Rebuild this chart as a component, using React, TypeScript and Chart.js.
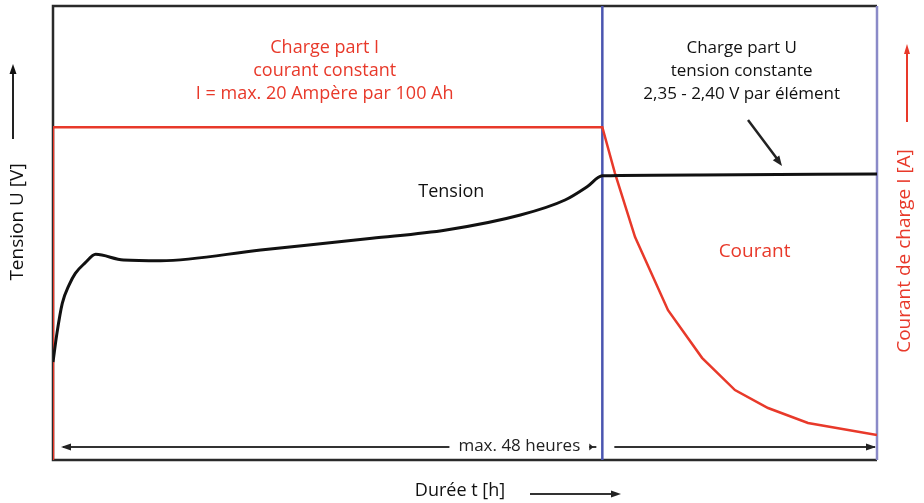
import React, { useEffect, useRef } from "react";
import { Chart, registerables } from "chart.js";

Chart.register(...registerables);

// Tension (black) curve: hours / relative level
const tensionHours = [0, 0.35, 0.81, 1.4, 1.95, 2.8, 3.73, 6.16, 9.4, 18.15, 27.87, 34.36, 40.84, 44.74, 46.67, 48, 56.5, 72];
const tensionValues = [21.6, 28.0, 34.5, 38.5, 41.1, 43.4, 45.3, 44.05, 43.9, 46.26, 48.83, 50.66, 53.96, 57.27, 60.2, 62.6, 62.8, 63.0];

// Courant (red) curve
const currentHours = [0, 0, 48, 49.1, 50.86, 53.74, 56.71, 59.59, 62.48, 65.97, 72];
const currentValues = [0, 73.3, 73.3, 63.2, 49.1, 33.0, 22.5, 15.4, 11.45, 8.15, 5.5];

const switchHour = 48;
const xMax = 72;
const yMax = 100;

const labelsPhaseI = ["Charge part I", "courant constant", "I = max. 20 Ampère par 100 Ah"];
const labelsPhaseU = ["Charge part U", "tension constante", "2,35 - 2,40 V par élément"];
const tensionLabel = "Tension";
const courantLabel = "Courant";
const durationLabel = "max. 48 heures";
const xTitle = "Durée t [h]";
const yLeftTitle = "Tension U [V]";
const yRightTitle = "Courant de charge I [A]";

const RED = "#e8392a";
const FONT = "'Open Sans'";

function arrowHead(ctx: CanvasRenderingContext2D, x: number, y: number, angle: number, len: number, wid: number) {
  ctx.save();
  ctx.translate(x, y);
  ctx.rotate(angle);
  ctx.beginPath();
  ctx.moveTo(0, 0);
  ctx.lineTo(-len, -wid / 2);
  ctx.lineTo(-len, wid / 2);
  ctx.closePath();
  ctx.fill();
  ctx.restore();
}

const framePlugin = {
  id: "frame",
  beforeDatasetsDraw(chart: any) {
    const { ctx, chartArea: a, scales } = chart;
    ctx.save();
    ctx.lineWidth = 2.5;
    ctx.strokeStyle = "#2a2a2a";
    ctx.beginPath();
    ctx.moveTo(a.right, a.top);
    ctx.lineTo(a.left, a.top);
    ctx.lineTo(a.left, a.bottom);
    ctx.lineTo(a.right, a.bottom);
    ctx.stroke();
    ctx.strokeStyle = "#8a8ac8";
    ctx.beginPath();
    ctx.moveTo(a.right, a.top);
    ctx.lineTo(a.right, a.bottom);
    ctx.stroke();
    // bottom duration arrows
    const yA = a.bottom - 13;
    const xs = scales.x.getPixelForValue(switchHour);
    ctx.strokeStyle = "#333";
    ctx.fillStyle = "#222";
    ctx.lineWidth = 2;
    ctx.beginPath();
    ctx.moveTo(a.left + 10, yA);
    ctx.lineTo(xs - 6, yA);
    ctx.moveTo(xs + 12, yA);
    ctx.lineTo(a.right - 2, yA);
    ctx.stroke();
    arrowHead(ctx, a.left + 8, yA, Math.PI, 10, 7);
    arrowHead(ctx, a.right - 1, yA, 0, 10, 7);
    ctx.font = `17px ${FONT}`;
    const tw = ctx.measureText(durationLabel).width;
    const tcx = xs - 83;
    ctx.fillStyle = "#fff";
    ctx.fillRect(tcx - tw / 2 - 9, yA - 10, tw + 18, 20);
    ctx.fillStyle = "#222";
    ctx.textAlign = "center";
    ctx.textBaseline = "middle";
    ctx.fillText(durationLabel, tcx, yA - 1);
    arrowHead(ctx, xs - 9, yA, 0, 4, 7);
    // switch line
    ctx.strokeStyle = "#4a55b0";
    ctx.lineWidth = 2.5;
    ctx.beginPath();
    ctx.moveTo(xs, a.top);
    ctx.lineTo(xs, a.bottom);
    ctx.stroke();
    ctx.restore();
  },
  afterDraw(chart: any) {
    const { ctx, chartArea: a, scales } = chart;
    const xs = scales.x.getPixelForValue(switchHour);
    ctx.save();
    ctx.textAlign = "center";
    ctx.textBaseline = "middle";
    ctx.font = `18px ${FONT}`;
    ctx.fillStyle = RED;
    const cI = (a.left + xs) / 2 - 3;
    labelsPhaseI.forEach((t, i) => ctx.fillText(t, cI, 48 + i * 23));
    ctx.fillStyle = "#111";
    ctx.font = `17px ${FONT}`;
    const cU = (xs + a.right) / 2 + 2;
    labelsPhaseU.forEach((t, i) => ctx.fillText(t, cU, 48 + i * 23));
    ctx.font = `18px ${FONT}`;
    ctx.fillText(tensionLabel, scales.x.getPixelForValue(34.8), scales.y.getPixelForValue(59));
    ctx.fillStyle = RED;
    ctx.font = `19px ${FONT}`;
    ctx.fillText(courantLabel, scales.x.getPixelForValue(61.3), scales.y.getPixelForValue(45.8));
    // pointer arrow
    ctx.strokeStyle = "#222";
    ctx.fillStyle = "#222";
    ctx.lineWidth = 2.5;
    ctx.beginPath();
    ctx.moveTo(748, 120);
    ctx.lineTo(778, 160);
    ctx.stroke();
    arrowHead(ctx, 782, 166, Math.atan2(46, 34), 10, 8);
    // left title + arrow
    ctx.fillStyle = "#111";
    ctx.font = `19px ${FONT}`;
    ctx.save();
    ctx.translate(18, 222);
    ctx.rotate(-Math.PI / 2);
    ctx.fillText(yLeftTitle, 0, 0);
    ctx.restore();
    ctx.strokeStyle = "#222";
    ctx.lineWidth = 2;
    ctx.beginPath();
    ctx.moveTo(13, 139);
    ctx.lineTo(13, 72);
    ctx.stroke();
    arrowHead(ctx, 13, 64, -Math.PI / 2, 10, 7);
    // right title + arrow
    ctx.fillStyle = RED;
    ctx.save();
    ctx.translate(905, 251);
    ctx.rotate(-Math.PI / 2);
    ctx.fillText(yRightTitle, 0, 0);
    ctx.restore();
    ctx.strokeStyle = RED;
    ctx.fillStyle = RED;
    ctx.lineWidth = 2;
    ctx.beginPath();
    ctx.moveTo(907, 122);
    ctx.lineTo(907, 52);
    ctx.stroke();
    arrowHead(ctx, 907, 44, -Math.PI / 2, 10, 6);
    // x title + arrow
    ctx.fillStyle = "#111";
    ctx.font = `18px ${FONT}`;
    ctx.fillText(xTitle, 460, 491);
    ctx.strokeStyle = "#333";
    ctx.fillStyle = "#222";
    ctx.lineWidth = 2;
    ctx.beginPath();
    ctx.moveTo(530, 494);
    ctx.lineTo(612, 494);
    ctx.stroke();
    arrowHead(ctx, 621, 494, 0, 10, 7);
    ctx.restore();
  },
};

export default function App() {
  const ref = useRef<HTMLCanvasElement | null>(null);
  useEffect(() => {
    document.body.style.margin = "0";
    const canvas = ref.current!;
    const chart = new Chart(canvas, {
      type: "line",
      data: {
        datasets: [
          {
            label: "Tension",
            data: tensionHours.map((h, i) => ({ x: h, y: tensionValues[i] })),
            borderColor: "#111",
            borderWidth: 3,
            pointRadius: 0,
            cubicInterpolationMode: "monotone",
            fill: false,
          },
          {
            label: "Courant",
            data: currentHours.map((h, i) => ({ x: h, y: currentValues[i] })),
            borderColor: RED,
            borderWidth: 2.5,
            pointRadius: 0,
            tension: 0,
            fill: false,
          },
        ],
      },
      options: {
        responsive: false,
        animation: false,
        layout: { padding: { left: 53, right: 47, top: 6, bottom: 43 } },
        plugins: { legend: { display: false }, tooltip: { enabled: false } },
        scales: {
          x: { type: "linear", min: 0, max: xMax, display: false },
          y: { type: "linear", min: 0, max: yMax, display: false },
        },
      },
      plugins: [framePlugin],
    } as any);
    return () => chart.destroy();
  }, []);
  return (
    <div style={{ width: 924, height: 503, background: "#fff" }}>
      <canvas ref={ref} width={924} height={503} style={{ display: "block" }} />
    </div>
  );
}
